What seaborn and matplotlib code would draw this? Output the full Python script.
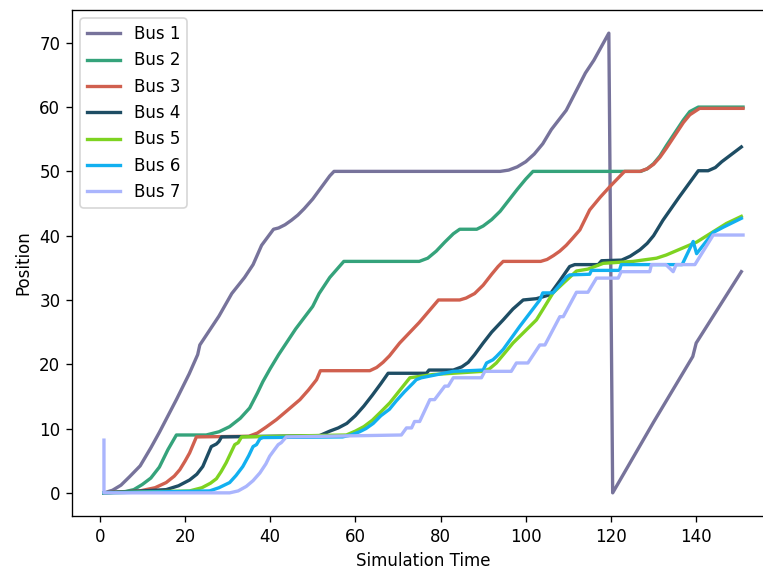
import pandas as pd
import matplotlib
matplotlib.use("Agg")
import matplotlib.pyplot as plt
import seaborn as sns

# bus positions (time, position)
bus1_t = [1, 3, 5, 7, 9.5, 12, 14, 18, 21, 23, 23.5, 28, 31, 34, 36, 38, 40.8, 42, 43.5, 45, 46.5,
          48, 50, 52, 54, 55, 94, 96, 98, 100, 102, 104, 106, 109.5, 114, 116, 119.5, 120.4,
          130, 139.2, 140, 150.6]
bus1_v = [0, 0.4, 1.2, 2.5, 4.2, 7, 9.4, 14.5, 18.5, 21.5, 23, 27.5, 31, 33.5, 35.5, 38.5, 41, 41.2,
          41.7, 42.4, 43.2, 44.2, 45.7, 47.5, 49.3, 50, 50, 50.2, 50.7, 51.5, 52.7, 54.3, 56.5,
          59.5, 65.3, 67.3, 71.5, 0, 11, 21.2, 23.3, 34.4]

bus2_t = [1, 6, 8, 10, 12, 14, 16, 18, 25, 28, 30.5, 33, 35.2, 37, 38.3, 40, 42, 46, 50, 51.5, 54,
          57.3, 75, 77, 79, 81, 83, 84.5, 88.5, 90, 92, 94, 96, 98, 100, 101.7, 127, 128.5, 130,
          131.5, 133, 135, 137, 138.5, 140.5, 151]
bus2_v = [0, 0.2, 0.5, 1.3, 2.3, 4, 6.7, 9, 9, 9.5, 10.3, 11.6, 13.2, 15.5, 17.3, 19.3, 21.5, 25.5,
          29, 31, 33.5, 36, 36, 36.5, 37.6, 39, 40.3, 41, 41, 41.5, 42.5, 43.8, 45.5, 47.2, 48.8,
          50, 50, 50.4, 51.2, 52.4, 54, 56, 58, 59.3, 60, 60]

bus3_t = [1, 9.4, 13, 15.6, 17.5, 18.8, 20, 21.1, 22.7, 35, 37, 39, 41.5, 44, 47, 49, 50.9, 51.8,
          63.4, 65, 66.5, 68, 70.4, 75, 79.5, 84.5, 86, 88, 90, 92, 93.5, 94.7, 103.5, 105, 106.5,
          108, 109.5, 111, 112.7, 115, 117.5, 119.7, 123.2, 126.8, 128.5, 130, 131.5, 133, 135,
          137, 138.5, 140.8, 151]
bus3_v = [0, 0.3, 0.8, 1.6, 2.6, 3.6, 4.9, 6.2, 8.7, 8.8, 9.3, 10.2, 11.4, 12.8, 14.5, 16, 17.6, 19,
          19, 19.5, 20.3, 21.3, 23.3, 26.5, 30, 30, 30.3, 31, 32.3, 34, 35.2, 36, 36, 36.3, 36.9,
          37.6, 38.5, 39.6, 40.9, 44, 46, 47.6, 50, 50, 50.4, 51.1, 52.2, 53.6, 55.6,
          57.6, 58.8, 59.8, 59.8]

bus4_t = [1, 15.6, 18.5, 21.1, 22.8, 24.2, 26.2, 27.4, 28, 28.6, 51.6, 54, 56, 58, 60, 62, 64, 66,
          67.7, 76.7, 77.3, 83, 85, 86.5, 88, 90, 92, 94.7, 97, 99.4, 102.5, 105.6, 108, 110.3,
          111.5, 117, 117.8, 122.5, 124.5, 126.8, 128.5, 130, 132.2, 136, 140.5, 142.8, 144.5,
          146, 148, 150.6]
bus4_v = [0, 0.5, 1.1, 2, 2.9, 4.1, 7.2, 7.6, 8, 8.7, 8.9, 9.6, 10.1, 10.8, 12, 13.5, 15.2, 17,
          18.6, 18.6, 19.1, 19.1, 19.6, 20.3, 21.5, 23.3, 25, 26.9, 28.6, 30, 30.2, 30.8, 33, 35.2,
          35.5, 35.5, 36.1, 36.2, 36.8, 37.8, 38.8, 40, 42.4, 46, 50.1, 50.1, 50.6,
          51.5, 52.5, 53.8]

bus5_t = [1, 21.1, 24, 26, 27.4, 28.5, 29.7, 31.7, 32.5, 33.3, 57.9, 60, 62, 64, 66, 68.1, 70.5,
          72.8, 78.2, 90, 91.5, 93.1, 95, 97, 102.5, 104, 106.4, 108.8, 111.9, 114.6, 118.2, 125.2,
          130.7, 133, 140.1, 147.1, 150.6]
bus5_v = [0, 0.3, 0.8, 1.5, 2.2, 3.3, 4.7, 7.5, 7.8, 8.7, 9.0, 9.6, 10.3, 11.3, 12.6, 14, 16,
          17.9, 18.4, 18.9, 19.3, 20.2, 21.7, 23.3, 26.9, 28.5, 31.1, 32.6, 34.5, 34.8, 35.7, 36,
          36.5, 37, 39, 41.9, 43]

bus6_t = [1, 25.8, 28, 30.5, 32, 33.6, 35, 36, 36.8, 37.6, 38.3, 57, 59, 61, 62.5, 64.2, 66, 68,
          69.6, 71.5, 73.6, 74.3, 75.5, 83, 90, 90.8, 92.3, 93.1, 94.7, 98.6, 103.3, 104, 106.4,
          109.6, 110.3, 115, 115.4, 122, 122.4, 136.7, 139.3, 140.1, 144, 146.3, 150.6]
bus6_v = [0, 0.3, 0.8, 1.6, 2.7, 4.1, 5.8, 7.2, 7.5, 8.4, 8.6, 8.7, 9, 9.5, 10, 10.8, 12, 13,
          14.3, 15.7, 17.1, 17.6, 17.9, 18.9, 19.1, 20.2, 20.7, 21.2, 22.3, 25.9, 30, 31.1, 31.1,
          33.6, 33.9, 34, 34.6, 34.6, 35.5, 35.5, 39.1, 37.2, 40.5, 41.3, 42.7]

bus7_t = [1, 1, 30.5, 32.5, 34.4, 36, 37.6, 39, 39.9, 41, 41.9, 42.6, 43.8, 70.8, 72, 73.2, 73.9,
          75.1, 77.5, 78.6, 81, 81.8, 83, 89.6, 90.4, 96.6, 97.8, 100.5, 103.3, 104.5, 108, 108.8,
          111.9, 114.6, 116.6, 121.7, 122.4, 129.1, 129.5, 132.9, 134.6, 135.3, 139.7, 144, 151]
bus7_v = [8.2, 0, 0, 0.3, 1, 1.9, 3.1, 4.5, 5.7, 6.7, 7.5, 7.8, 8.7, 9, 10.1, 10.1, 11.1,
          11.1, 14.5, 14.5, 16.6, 16.6, 17.9, 17.9, 18.9, 18.9, 20.2, 20.2, 23, 23, 27.4, 27.4,
          31.2, 31.2, 33.4, 33.4, 34.4, 34.4, 35.5, 35.5, 34.4, 35.5, 35.5, 40.1, 40.1]

bus_names = ["Bus 1", "Bus 2", "Bus 3", "Bus 4", "Bus 5", "Bus 6", "Bus 7"]
bus_colors = ["#77739b", "#35a37b", "#d0604f", "#1e4d64", "#7ed321", "#12b0f0", "#aab5fd"]

series = [(bus1_t, bus1_v), (bus2_t, bus2_v), (bus3_t, bus3_v), (bus4_t, bus4_v),
          (bus5_t, bus5_v), (bus6_t, bus6_v), (bus7_t, bus7_v)]

frames = []
for name, (t, v) in zip(bus_names, series):
    frames.append(pd.DataFrame({"time": t, "position": v, "bus": name}))
df = pd.concat(frames, ignore_index=True)

fig = plt.figure(figsize=(763 / 120, 574 / 120), dpi=120)
ax = fig.add_axes([72 / 763, 58 / 574, 703 / 763, 506 / 574])

sns.lineplot(data=df, x="time", y="position", hue="bus", hue_order=bus_names,
             palette=dict(zip(bus_names, bus_colors)), estimator=None, sort=False,
             linewidth=2, ax=ax)

ax.set_xlim(-6.5, 158.5)
ax.set_ylim(-3.6, 75.1)
ax.set_xlabel("Simulation Time")
ax.set_ylabel("Position")
sns.move_legend(ax, "upper left", title=None)

fig.savefig("out.png", dpi=120)
